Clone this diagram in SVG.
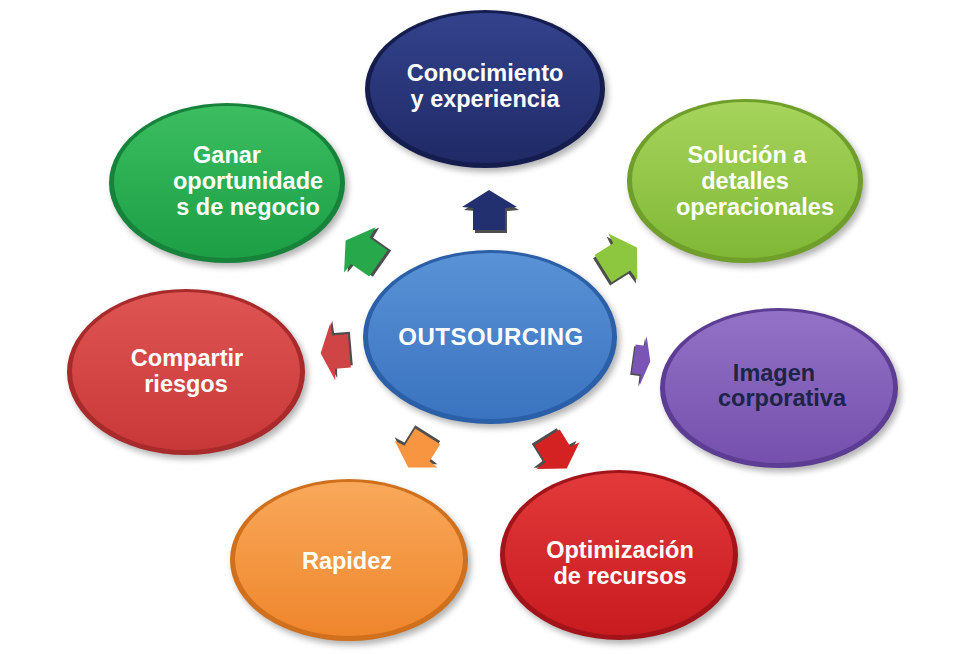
<svg xmlns="http://www.w3.org/2000/svg" width="968" height="654" viewBox="0 0 968 654">
<defs>
<style>
.t{font-family:"Liberation Sans",Arial,sans-serif;font-weight:bold;font-size:23.5px;fill:#ffffff;text-anchor:middle}
.dk{fill:#1c2447}
.sh{fill:#000;opacity:0.3;filter:url(#blur)}
.ash{fill:#222;opacity:0.8}
</style>
<filter id="blur" x="-20%" y="-20%" width="140%" height="140%"><feGaussianBlur stdDeviation="3"/></filter>
<linearGradient id="gNavy" x1="0" y1="0" x2="0" y2="1"><stop offset="0" stop-color="#33428c"/><stop offset="1" stop-color="#1f2a66"/></linearGradient>
<linearGradient id="gLime" x1="0" y1="0" x2="0" y2="1"><stop offset="0" stop-color="#a6d45c"/><stop offset="1" stop-color="#80b836"/></linearGradient>
<linearGradient id="gPurple" x1="0" y1="0" x2="0" y2="1"><stop offset="0" stop-color="#9372c6"/><stop offset="1" stop-color="#7550ad"/></linearGradient>
<linearGradient id="gRed" x1="0" y1="0" x2="0" y2="1"><stop offset="0" stop-color="#e2393a"/><stop offset="1" stop-color="#c81b20"/></linearGradient>
<linearGradient id="gOrange" x1="0" y1="0" x2="0" y2="1"><stop offset="0" stop-color="#f9a85a"/><stop offset="1" stop-color="#ef862c"/></linearGradient>
<linearGradient id="gRed2" x1="0" y1="0" x2="0" y2="1"><stop offset="0" stop-color="#de5553"/><stop offset="1" stop-color="#c93838"/></linearGradient>
<linearGradient id="gGreen" x1="0" y1="0" x2="0" y2="1"><stop offset="0" stop-color="#3bbd60"/><stop offset="1" stop-color="#1c9f45"/></linearGradient>
<linearGradient id="gBlue" x1="0" y1="0" x2="0" y2="1"><stop offset="0" stop-color="#5a92d6"/><stop offset="1" stop-color="#3a73bf"/></linearGradient>
<polygon id="arr" points="0,-20 28,-3 16,-2 16,20 -16,20 -16,-2 -27,-3"/>
</defs>
<rect width="968" height="654" fill="#ffffff"/>

<g id="connectors">
<g transform="translate(489,210)"><use href="#arr" class="ash" transform="translate(2,3)"/><use href="#arr" fill="#23306f"/></g>
<g transform="translate(362,252) rotate(-55)"><use href="#arr" class="ash" transform="translate(2,3)"/><use href="#arr" fill="#26a84b"/></g>
<g transform="translate(620,258) rotate(58)"><use href="#arr" class="ash" transform="translate(2,3)"/><use href="#arr" fill="#8dc63f"/></g>
<g transform="translate(335,352) rotate(-95) scale(1.05,0.72)"><use href="#arr" class="ash" transform="translate(2,3)"/><use href="#arr" fill="#cf4444"/></g>
<g transform="translate(642,360) rotate(98) scale(0.9,0.42)"><use href="#arr" class="ash" transform="translate(2,3)"/><use href="#arr" fill="#7b55b5"/></g>
<g transform="translate(418,452) rotate(-148) scale(0.92)"><use href="#arr" class="ash" transform="translate(2,3)"/><use href="#arr" fill="#f79540"/></g>
<g transform="translate(557,453) rotate(148) scale(0.92)"><use href="#arr" class="ash" transform="translate(2,3)"/><use href="#arr" fill="#d42222"/></g>
</g>

<g id="center">
<ellipse class="sh" cx="493" cy="341" rx="127" ry="87"/>
<ellipse cx="490" cy="337" rx="127" ry="87" fill="#2b5fa8"/>
<ellipse cx="490" cy="336" rx="122" ry="83" fill="url(#gBlue)"/>
<text class="t" x="491" y="345" style="font-size:24px;letter-spacing:0.5px">OUTSOURCING</text>
</g>

<g id="n-conocimiento">
<ellipse class="sh" cx="488" cy="93" rx="120" ry="79"/>
<ellipse cx="485" cy="89" rx="120" ry="79" fill="#151d4f"/>
<ellipse cx="485" cy="88" rx="115" ry="75" fill="url(#gNavy)"/>
<text class="t" x="485" y="81">Conocimiento</text>
<text class="t" x="485" y="107">y experiencia</text>
</g>

<g id="n-solucion">
<ellipse class="sh" cx="748" cy="185" rx="118" ry="82"/>
<ellipse cx="745" cy="181" rx="118" ry="82" fill="#6f9e2a"/>
<ellipse cx="745" cy="180" rx="113" ry="78" fill="url(#gLime)"/>
<text class="t" x="747" y="163">Solución a</text>
<text class="t" x="745" y="189">detalles</text>
<text class="t" x="755" y="215">operacionales</text>
</g>

<g id="n-imagen">
<ellipse class="sh" cx="782" cy="392" rx="119" ry="80"/>
<ellipse cx="779" cy="388" rx="119" ry="80" fill="#5d3c94"/>
<ellipse cx="779" cy="387" rx="114" ry="76" fill="url(#gPurple)"/>
<text class="t dk" x="774" y="381">Imagen</text>
<text class="t dk" x="782" y="406">corporativa</text>
</g>

<g id="n-optimizacion">
<ellipse class="sh" cx="622" cy="559" rx="119" ry="85"/>
<ellipse cx="619" cy="555" rx="119" ry="85" fill="#a3141a"/>
<ellipse cx="619" cy="554" rx="114" ry="81" fill="url(#gRed)"/>
<text class="t" x="620" y="558">Optimización</text>
<text class="t" x="620" y="584">de recursos</text>
</g>

<g id="n-rapidez">
<ellipse class="sh" cx="352" cy="564" rx="119" ry="81"/>
<ellipse cx="349" cy="560" rx="119" ry="81" fill="#d06f1c"/>
<ellipse cx="349" cy="559" rx="114" ry="77" fill="url(#gOrange)"/>
<text class="t" x="347" y="569">Rapidez</text>
</g>

<g id="n-compartir">
<ellipse class="sh" cx="189" cy="376" rx="119" ry="83"/>
<ellipse cx="186" cy="372" rx="119" ry="83" fill="#a82a2a"/>
<ellipse cx="186" cy="371" rx="114" ry="79" fill="url(#gRed2)"/>
<text class="t" x="187" y="366">Compartir</text>
<text class="t" x="186" y="392">riesgos</text>
</g>

<g id="n-ganar">
<ellipse class="sh" cx="230" cy="187" rx="118" ry="80"/>
<ellipse cx="227" cy="183" rx="118" ry="80" fill="#16823a"/>
<ellipse cx="227" cy="182" rx="113" ry="76" fill="url(#gGreen)"/>
<text class="t" x="227" y="163">Ganar</text>
<text class="t" x="248" y="189">oportunidade</text>
<text class="t" x="248" y="215">s de negocio</text>
</g>
</svg>
